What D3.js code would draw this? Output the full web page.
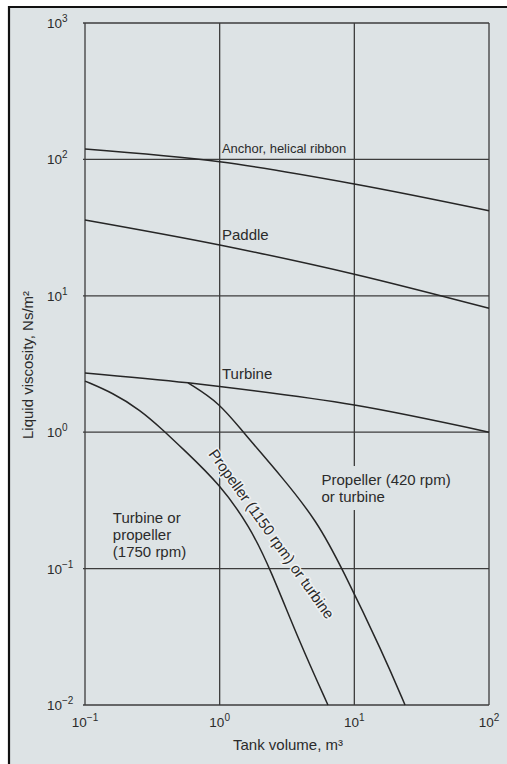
<!DOCTYPE html>
<html>
<head>
<meta charset="utf-8">
<script src="https://cdn.jsdelivr.net/npm/d3@7"></script>
<style>
  html, body { margin: 0; padding: 0; background: #ffffff; }
  svg { display: block; }
  text { font-family: "Liberation Sans", Arial, Helvetica, sans-serif; fill: #2b2b2b; }
</style>
</head>
<body>
<svg id="chart" width="507" height="764"></svg>
<script>
// ---- data ----
const xTicks = [0.1, 1, 10, 100];
const yTicks = [0.01, 0.1, 1, 10, 100, 1000];
const xTickExp = ["\u22121", "0", "1", "2"];
const yTickExp = ["\u22122", "\u22121", "0", "1", "2", "3"];

const anchorX = [0.1, 1, 10, 100];
const anchorY = [119, 96, 66, 42];

const paddleX = [0.1, 1, 10, 100];
const paddleY = [36, 23.6, 14.4, 8.1];

const turbineX = [0.1, 0.582, 1, 10, 100];
const turbineY = [2.72, 2.30, 2.16, 1.58, 1.0];

const prop1750X = [0.1, 0.161, 0.256, 0.379, 0.534, 1.0, 1.68, 2.36, 3.94, 6.37];
const prop1750Y = [2.37, 1.94, 1.46, 1.04, 0.753, 0.417, 0.202, 0.101, 0.0285, 0.01];

const prop1150X = [0.582, 1.0, 1.49, 2.9, 5.3, 8.09, 16.3, 23.8];
const prop1150Y = [2.30, 1.64, 1.0, 0.47, 0.222, 0.101, 0.024, 0.01];

const xTitle = "Tank volume, m\u00b3";
const yTitle = "Liquid viscosity, Ns/m\u00b2";

const regionLabels = [
  { lines: ["Anchor, helical ribbon"], x: 1.04, y: 111, size: 13, box: false },
  { lines: ["Paddle"], x: 1.04, y: 25.6, size: 15, box: false },
  { lines: ["Turbine"], x: 1.04, y: 2.45, size: 15, box: false },
  { lines: ["Propeller (420 rpm)", "or turbine"], x: 5.7, y: 0.41, size: 15, box: true },
  { lines: ["Turbine or", "propeller", "(1750 rpm)"], x: 0.161, y: 0.216, size: 15, box: true }
];
const rotLabel = { text: "Propeller (1150 rpm) or turbine", x: 2.43, y: 0.1795, angle: 54.5 };

// ---- drawing ----
const svg = d3.select("#chart");
const W = 507, H = 764;
const BG = "#dde3e5";

// panel background + frame
svg.append("rect").attr("x", 9).attr("y", 7).attr("width", W - 9).attr("height", H - 7)
  .attr("fill", BG);
svg.append("line").attr("x1", 9).attr("x2", 9).attr("y1", 6).attr("y2", H)
  .attr("stroke", "#111").attr("stroke-width", 2.2);
svg.append("line").attr("x1", 8).attr("x2", W).attr("y1", 7).attr("y2", 7)
  .attr("stroke", "#111").attr("stroke-width", 2.2);

const x = d3.scaleLog().domain([0.1, 100]).range([85, 489]);
const y = d3.scaleLog().domain([0.01, 1000]).range([705, 23]);

const grid = svg.append("g").attr("stroke", "#3c3c3c").attr("stroke-width", 1.3);
grid.selectAll("line.v").data(xTicks).join("line").attr("class", "v")
  .attr("x1", d => x(d)).attr("x2", d => x(d))
  .attr("y1", y(1000)).attr("y2", y(0.01));
grid.selectAll("line.h").data(yTicks).join("line").attr("class", "h")
  .attr("x1", x(0.1) - 2).attr("x2", x(100))
  .attr("y1", d => y(d)).attr("y2", d => y(d));

// tick labels
const xl = svg.append("g");
xTicks.forEach((t, i) => {
  const tx = xl.append("text").attr("x", x(t)).attr("y", y(0.01) + 22)
    .attr("text-anchor", "middle").attr("font-size", 13.5).attr("fill", "#444");
  tx.append("tspan").text("10");
  tx.append("tspan").attr("dy", -6).attr("font-size", 10).text(xTickExp[i]);
});
const yl = svg.append("g");
yTicks.forEach((t, i) => {
  const tx = yl.append("text").attr("x", 47).attr("y", y(t) + 5)
    .attr("text-anchor", "start").attr("font-size", 13.5).attr("fill", "#444");
  tx.append("tspan").text("10");
  tx.append("tspan").attr("dy", -6).attr("font-size", 10).text(yTickExp[i]);
});

// axis titles
svg.append("text").attr("x", 288).attr("y", 750).attr("text-anchor", "middle")
  .attr("font-size", 15).text(xTitle);
svg.append("text").attr("transform", `translate(33,365) rotate(-90)`)
  .attr("text-anchor", "middle").attr("font-size", 15).text(yTitle);

// curves
const lineSmooth = d3.line().x(d => x(d[0])).y(d => y(d[1])).curve(d3.curveMonotoneX);
const lineBasis = d3.line().x(d => x(d[0])).y(d => y(d[1])).curve(d3.curveBasis);
const curves = [
  { pts: d3.zip(anchorX, anchorY), gen: lineSmooth },
  { pts: d3.zip(paddleX, paddleY), gen: lineSmooth },
  { pts: d3.zip(turbineX, turbineY), gen: lineSmooth },
  { pts: d3.zip(prop1750X, prop1750Y), gen: lineBasis },
  { pts: d3.zip(prop1150X, prop1150Y), gen: lineBasis }
];
svg.append("g").selectAll("path").data(curves).join("path")
  .attr("d", c => c.gen(c.pts)).attr("fill", "none").attr("stroke", "#262626").attr("stroke-width", 1.5);

// labels
regionLabels.forEach(l => {
  const g = svg.append("g");
  const t = g.append("text").attr("x", x(l.x)).attr("y", y(l.y)).attr("font-size", l.size);
  l.lines.forEach((s, i) => {
    t.append("tspan").attr("x", x(l.x)).attr("dy", i === 0 ? 0 : 17).text(s);
  });
  if (l.box) {
    const b = t.node().getBBox();
    g.insert("rect", "text").attr("x", b.x - 3).attr("y", b.y - 5)
      .attr("width", b.width + 6).attr("height", b.height + 10).attr("fill", BG);
  }
});
svg.append("text")
  .attr("transform", `translate(${x(rotLabel.x)},${y(rotLabel.y)}) rotate(${rotLabel.angle})`)
  .attr("text-anchor", "middle").attr("dy", "0.35em").attr("font-size", 15)
  .attr("stroke", "#eef1f2").attr("stroke-width", 3).attr("paint-order", "stroke")
  .text(rotLabel.text);
</script>
</body>
</html>
